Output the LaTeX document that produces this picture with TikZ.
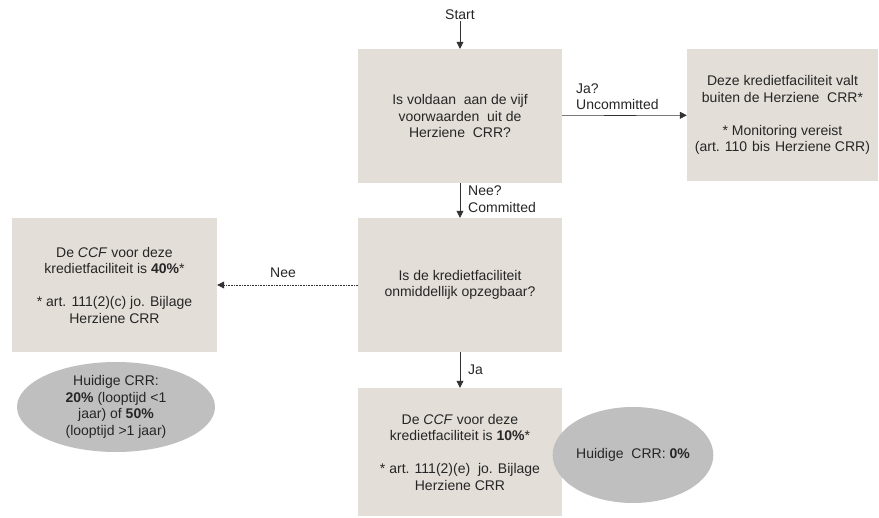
\documentclass[tikz,border=0pt]{standalone}
\usepackage{fontspec}
\setmainfont{Liberation Sans}
\usetikzlibrary{arrows.meta,shapes.geometric}
\definecolor{boxfill}{RGB}{227,222,216}
\definecolor{ellfill}{RGB}{191,191,191}
\definecolor{linec}{RGB}{50,50,50}
\tikzset{
  box/.style={rectangle, fill=boxfill, draw=none, align=center, inner sep=2pt,
    font=\fontsize{14}{16.5}\selectfont, text=black!85},
  ell/.style={ellipse, fill=ellfill, draw=none, align=center, inner sep=0pt,
    font=\fontsize{14}{16.5}\selectfont, text=black!85},
  lbl/.style={font=\fontsize{14}{16.5}\selectfont, text=black!85, inner sep=1pt},
  conn/.style={draw=linec, line width=0.6pt, -{Triangle[length=7pt,width=7pt]}},
}
\begin{document}
\begin{tikzpicture}[x=1pt,y=-1pt]
\useasboundingbox (0,0) rectangle (879,518);
\node[lbl] (start) at (460,15) {Start};
\node[box, minimum width=204pt, minimum height=134pt] (q1) at (460,116)
  {Is voldaan\ \ aan de vijf\\voorwaarden\ \ uit de\\Herziene\ \ CRR?};
\node[box, minimum width=191pt, minimum height=132pt] (r1) at (782.5,115)
  {Deze kredietfaciliteit valt\\buiten de Herziene\ \ CRR*\\[16.5pt]* Monitoring vereist\\(art.\hspace{5pt}110\hspace{5pt}bis\hspace{5pt}Herziene CRR)};
\node[box, minimum width=204pt, minimum height=134pt] (q2) at (460,285)
  {Is de kredietfaciliteit\\onmiddellijk opzegbaar?};
\node[box, minimum width=205pt, minimum height=134pt] (l1) at (114.5,285)
  {De \textit{CCF} voor deze\\kredietfaciliteit is \textbf{40\%}*\\[16.5pt]* art. 111(2)(c) jo. Bijlage\\Herziene CRR};
\node[box, minimum width=204pt, minimum height=128pt] (b3) at (460,452)
  {De \textit{CCF} voor deze\\kredietfaciliteit is \textbf{10\%}*\\[16.5pt]* art. 111(2)(e)\ \ jo. Bijlage\\Herziene CRR};
\node[ell, minimum width=198pt, minimum height=90pt] (e1) at (116,407)
  {Huidige CRR:\\\textbf{20\%} (looptijd <1\\jaar) of \textbf{50\%}\\(looptijd >1 jaar)};
\node[ell, minimum width=136pt, minimum height=96pt] (e2) at (633,455)
  {Huidige\ \ CRR: \textbf{0\%}};

\draw[conn] (start) -- (q1);
\draw[conn] (q1) -- (r1);
\draw[conn] (q1) -- (q2);
\draw[conn, densely dotted] (q2) -- (l1);
\draw[conn] (q2) -- (b3);

\node[lbl, anchor=south west, align=left] (lja) at (575,111) {Ja?\\Uncommitted};
\node[lbl, anchor=west, align=left] (lnee) at (467,199) {Nee?\\Committed};
\node[lbl] (lnee2) at (283,273) {Nee};
\node[lbl, anchor=west] (lja2) at (467,370) {Ja};
\end{tikzpicture}
\end{document}
